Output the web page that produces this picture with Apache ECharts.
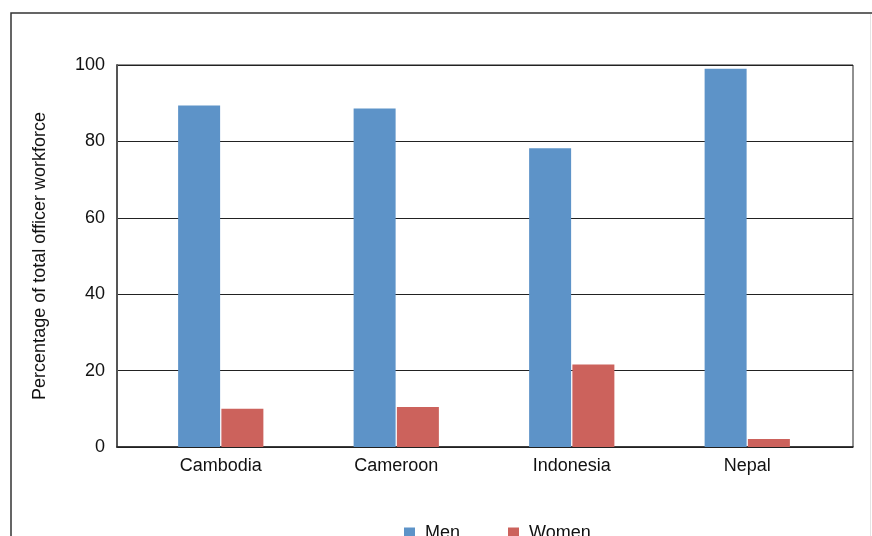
<!DOCTYPE html>
<html>
<head>
<meta charset="utf-8">
<script src="https://cdn.jsdelivr.net/npm/echarts@6/dist/echarts.min.js"></script>
<style>
html,body{margin:0;padding:0;background:#fff;}
#chart{width:872px;height:536px;}
</style>
</head>
<body>
<div id="chart"></div>
<script>
const categories = ['Cambodia', 'Cameroon', 'Indonesia', 'Nepal'];
const menValues = [89.4, 88.6, 78.2, 99.0];
const womenValues = [10.0, 10.5, 21.6, 2.1];
const yTicks = [0, 20, 40, 60, 80, 100];

const FONT = 'Liberation Sans, Arial, Helvetica, sans-serif';
const chart = echarts.init(document.getElementById('chart'), null, {renderer: 'canvas'});
chart.setOption({
  animation: false,
  backgroundColor: '#fff',
  graphic: [
    {type: 'rect', shape: {x: 11, y: 13, width: 1000, height: 800},
     style: {fill: 'none', stroke: '#333', lineWidth: 1.5}, z: 0},
    {type: 'line', shape: {x1: 870.5, y1: 14, x2: 870.5, y2: 536},
     style: {stroke: '#e4e4e4', lineWidth: 1}, z: 0}
  ],
  grid: [
    {left: 117, top: 65, width: 736, height: 382, show: true, borderColor: '#222', borderWidth: 1, backgroundColor: 'transparent'},
    {left: 133, top: 65, width: 702, height: 382}
  ],
  legend: {
    data: ['Men', 'Women'],
    left: 399, top: 519,
    icon: 'rect', itemWidth: 11, itemHeight: 11, itemGap: 48,
    textStyle: {fontFamily: FONT, fontSize: 18, color: '#111', lineHeight: 18, padding: [0, 0, 0, 5]}
  },
  xAxis: [
    {gridIndex: 0, type: 'category', data: categories,
     axisLine: {show: true, lineStyle: {color: '#222', width: 1.5}},
     axisTick: {show: false}, axisLabel: {show: false}, splitLine: {show: false}},
    {gridIndex: 1, type: 'category', data: categories,
     axisLine: {show: false}, axisTick: {show: false},
     axisLabel: {fontFamily: FONT, fontSize: 18, color: '#111', margin: 10}}
  ],
  yAxis: [
    {gridIndex: 0, type: 'value', min: 0, max: 100, interval: 20,
     name: 'Percentage of total officer workforce', nameLocation: 'middle', nameGap: 68,
     nameTextStyle: {fontFamily: FONT, fontSize: 18, color: '#111'},
     axisLine: {show: true, lineStyle: {color: '#555', width: 2}},
     axisTick: {show: false},
     axisLabel: {fontFamily: FONT, fontSize: 18, color: '#111', margin: 12,
       formatter: v => yTicks.includes(v) ? String(v) : ''},
     splitLine: {show: true, lineStyle: {color: '#222', width: 1}}},
    {gridIndex: 1, type: 'value', min: 0, max: 100, interval: 20, show: false,
     splitLine: {show: false}}
  ],
  series: [
    {name: 'Men', type: 'bar', xAxisIndex: 1, yAxisIndex: 1, data: menValues,
     barWidth: 42, barGap: '3%', itemStyle: {color: '#5d93c8'}},
    {name: 'Women', type: 'bar', xAxisIndex: 1, yAxisIndex: 1, data: womenValues,
     barWidth: 42, barGap: '3%', itemStyle: {color: '#cc625c'}}
  ]
});
</script>
</body>
</html>
